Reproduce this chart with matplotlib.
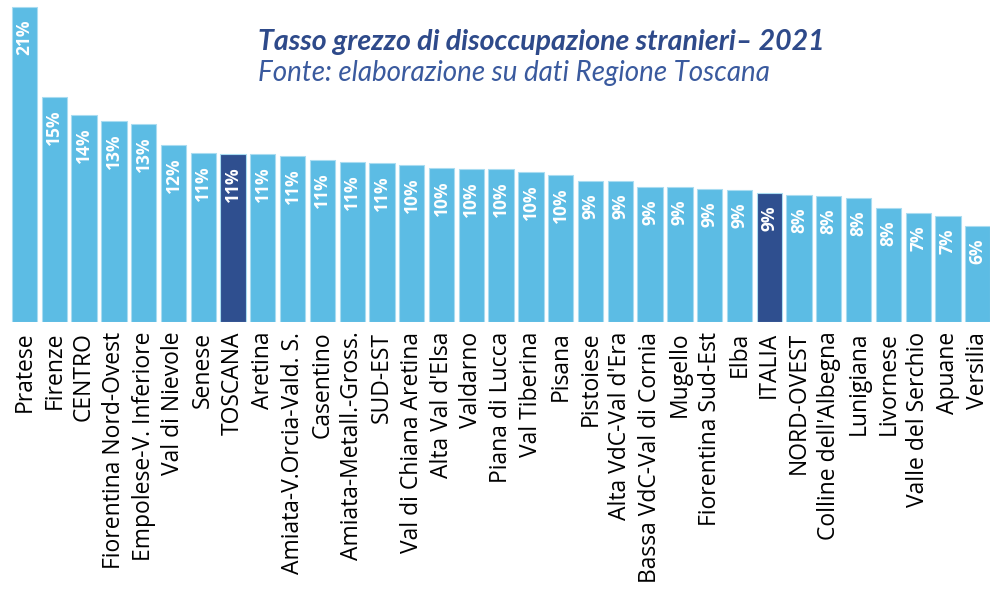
import numpy as np
import matplotlib
matplotlib.use("Agg")
import matplotlib.pyplot as plt

# Tasso grezzo di disoccupazione stranieri 2021 (%)
zone = [
    "Pratese", "Firenze", "CENTRO", "Fiorentina Nord-Ovest", "Empolese-V. Inferiore",
    "Val di Nievole", "Senese", "TOSCANA", "Aretina", "Amiata-V.Orcia-Vald. S.",
    "Casentino", "Amiata-Metall.-Gross.", "SUD-EST", "Val di Chiana Aretina",
    "Alta Val d'Elsa", "Valdarno", "Piana di Lucca", "Val Tiberina", "Pisana",
    "Pistoiese", "Alta VdC-Val d'Era", "Bassa VdC-Val di Cornia", "Mugello",
    "Fiorentina Sud-Est", "Elba", "ITALIA", "NORD-OVEST", "Colline dell'Albegna",
    "Lunigiana", "Livornese", "Valle del Serchio", "Apuane", "Versilia",
]
tasso = [
    21.0, 15.0, 13.8, 13.4, 13.2, 11.8, 11.3, 11.2, 11.2, 11.1,
    10.8, 10.7, 10.6, 10.5, 10.3, 10.2, 10.2, 10.0, 9.8, 9.4,
    9.4, 9.0, 9.0, 8.9, 8.8, 8.6, 8.5, 8.4, 8.3, 7.6,
    7.3, 7.1, 6.4,
]
evidenza = ["TOSCANA", "ITALIA"]

light = "#5cbce4"
dark = "#2f4f8f"

fig = plt.figure(figsize=(9.9, 6), dpi=100)
ax = fig.add_axes([0.0097, 0.4633, 0.993, 0.5375])

x = np.arange(len(zone))
colors = [dark if z in evidenza else light for z in zone]
bars = ax.bar(x, tasso, width=0.85, color=colors, edgecolor="#a9dcf1", linewidth=0.8)

for b, v in zip(bars, tasso):
    ax.annotate("%d%%" % round(v), (b.get_x() + b.get_width() / 2, v),
                xytext=(0, -9), textcoords="offset points",
                rotation=90, ha="center", va="top", color="white",
                fontsize=12.5, fontweight="bold", family="Open Sans")

ax.set_xlim(-0.5, len(zone) - 0.5)
ax.set_ylim(0, 21.5)
ax.set_xticks(x)
ax.set_xticklabels(zone, rotation=90, fontsize=16.5, family="Open Sans", color="black")
ax.tick_params(axis="x", length=0, pad=7)
ax.set_yticks([])
for s in ax.spines.values():
    s.set_visible(False)

fig.text(0.2606, 0.9167, "Tasso grezzo di disoccupazione stranieri\u2013 2021",
         family="Lato", style="italic", fontweight="bold", fontsize=20.5,
         color="#2e4a8a", va="baseline")
fig.text(0.2606, 0.865, "Fonte: elaborazione su dati Regione Toscana",
         family="Lato", style="italic", fontsize=20,
         color="#3a5a9e", va="baseline")

fig.savefig("out.png", dpi=100)
